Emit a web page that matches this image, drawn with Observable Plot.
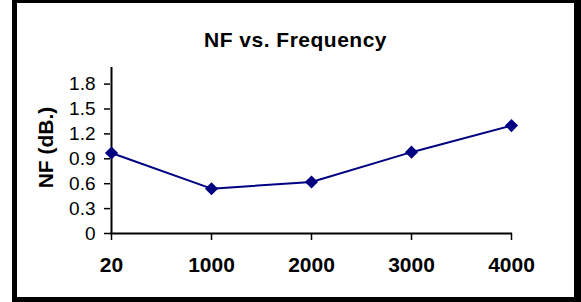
<!DOCTYPE html>
<html>
<head>
<meta charset="utf-8">
<script src="https://cdn.jsdelivr.net/npm/d3@7"></script>
<script src="https://cdn.jsdelivr.net/npm/@observablehq/plot@0.6"></script>
<style>
  html, body { margin: 0; padding: 0; background: #fff; overflow: hidden; }
  #wrap { position: relative; width: 581px; height: 302px; }
  #frame { position: absolute; left: 12px; top: -2px; width: 557px; height: 294px;
           border-style: solid; border-color: #000; border-width: 5px 7px 5px 5px; pointer-events: none; }
  svg { display: block; }
</style>
</head>
<body>
<div id="wrap"><div id="frame"></div></div>
<script>
const title = "NF vs. Frequency";
const yLabel = "NF (dB.)";
const frequencies = ["20", "1000", "2000", "3000", "4000"];
const nf = [0.97, 0.54, 0.62, 0.98, 1.30];
const yTicks = [0, 0.3, 0.6, 0.9, 1.2, 1.5, 1.8];

const data = frequencies.map((f, i) => ({f, v: nf[i]}));
const font = "Liberation Sans, Arial, Helvetica, sans-serif";

const chart = Plot.plot({
  width: 581,
  height: 302,
  marginLeft: 110,
  marginRight: 69,
  marginTop: 67,
  marginBottom: 69,
  style: {fontFamily: font, background: "transparent", overflow: "visible"},
  x: {type: "point", domain: frequencies, padding: 0},
  y: {domain: [0, 2.0]},
  marks: [
    Plot.ruleY([0], {stroke: "#000", strokeWidth: 2}),
    Plot.ruleX([0], {x: () => frequencies[0], y1: 0, y2: 2.0, stroke: "#000", strokeWidth: 2}),
    Plot.axisY({ticks: yTicks, tickFormat: d => String(d), tickSize: 6, tickPadding: 9,
      fontSize: 19, fill: "#000", stroke: "#000", strokeWidth: 1.5, label: null}),
    Plot.axisX({tickSize: 7, tickPadding: 17, fontSize: 21, fontWeight: "bold",
      fill: "#000", stroke: "#000", strokeWidth: 1.5, label: null}),
    Plot.line(data, {x: "f", y: "v", stroke: "#000080", strokeWidth: 2}),
    Plot.dot(data, {x: "f", y: "v", symbol: "diamond2", r: 5.9, fill: "#000080", stroke: "none"}),
    Plot.text([title], {frameAnchor: "top", dy: -21, dx: -16, fontSize: 21, fontWeight: "bold",
      fill: "#000", lineAnchor: "bottom", className: "ttl"}),
    Plot.text([yLabel], {frameAnchor: "left", textAnchor: "middle", dx: -64, dy: -3, rotate: -90,
      fontSize: 21, fontWeight: "bold", fill: "#000"})
  ]
});
chart.querySelectorAll(".ttl text").forEach(t => t.setAttribute("letter-spacing", "0.5"));
document.getElementById("wrap").prepend(chart);
</script>
</body>
</html>
